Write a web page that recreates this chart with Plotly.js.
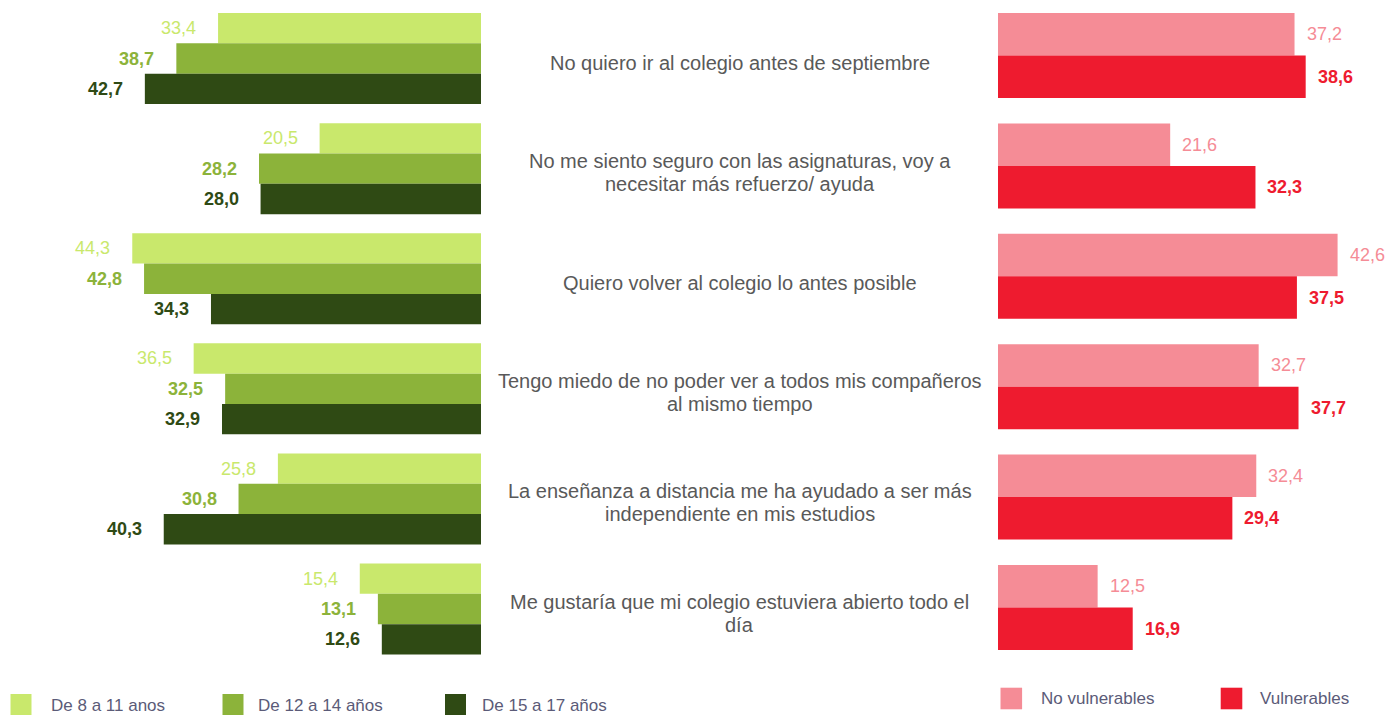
<!DOCTYPE html>
<html>
<head>
<meta charset="utf-8">
<script src="https://cdn.plot.ly/plotly-3.0.1.min.js"></script>
<style>
  html, body { margin: 0; padding: 0; background: #ffffff; }
  #chart { width: 1387px; height: 715px; }
</style>
</head>
<body>
<div id="chart"></div>
<script>
// ---------- DATA ----------
const categories = [
  "No quiero ir al colegio antes de septiembre",
  "No me siento seguro con las asignaturas, voy a<br>necesitar más refuerzo/ ayuda",
  "Quiero volver al colegio lo antes posible",
  "Tengo miedo de no poder ver a todos mis compañeros<br>al mismo tiempo",
  "La enseñanza a distancia me ha ayudado a ser más<br>independiente en mis estudios",
  "Me gustaría que mi colegio estuviera abierto todo el<br>día"
];
const age8to11  = [33.4, 20.5, 44.3, 36.5, 25.8, 15.4];
const age12to14 = [38.7, 28.2, 42.8, 32.5, 30.8, 13.1];
const age15to17 = [42.7, 28.0, 34.3, 32.9, 40.3, 12.6];
const noVulnerables = [37.2, 21.6, 42.6, 32.7, 32.4, 12.5];
const vulnerables   = [38.6, 32.3, 37.5, 37.7, 29.4, 16.9];

const ageNames  = ["De 8 a 11 anos", "De 12 a 14 años", "De 15 a 17 años"];
const vulnNames = ["No vulnerables", "Vulnerables"];

// ---------- STYLE ----------
const W = 1387, H = 715;
const FONT = "Liberation Sans, Arial, sans-serif";
const ageColors  = ["#C9E86C", "#8CB33A", "#2F4A14"];
const vulnColors = ["#F58C96", "#EE1B2F"];
const ageBold  = [false, true, true];
const vulnBold = [false, true];
const ageWidth = 0.2755, ageOffsets = [-0.413, -0.1375, 0.138];
const vulnWidth = 0.385, vulnOffsets = [-0.385, 0.0];

const idx = categories.map((_, i) => i);
const fmt = v => v.toFixed(1).replace(".", ",");
const px = x => x / W;
const py = y => 1 - y / H;

const traces = [];
const annotations = [];
const shapes = [];

[age8to11, age12to14, age15to17].forEach((vals, k) => {
  traces.push({
    type: "bar", orientation: "h", name: ageNames[k],
    x: vals, y: idx, xaxis: "x", yaxis: "y",
    width: ageWidth, offset: ageOffsets[k],
    marker: { color: ageColors[k], line: { width: 0 } },
    showlegend: false, hoverinfo: "x+name"
  });
  vals.forEach((v, i) => {
    const t = fmt(v);
    annotations.push({
      xref: "x", yref: "y", x: v, y: i + ageOffsets[k] + ageWidth / 2,
      text: ageBold[k] ? "<b>" + t + "</b>" : t,
      showarrow: false, xanchor: "right", yanchor: "middle", xshift: -20,
      font: { family: FONT, size: 18, color: ageColors[k] }
    });
  });
});

[noVulnerables, vulnerables].forEach((vals, k) => {
  traces.push({
    type: "bar", orientation: "h", name: vulnNames[k],
    x: vals, y: idx, xaxis: "x2", yaxis: "y2",
    width: vulnWidth, offset: vulnOffsets[k],
    marker: { color: vulnColors[k], line: { width: 0 } },
    showlegend: false, hoverinfo: "x+name"
  });
  vals.forEach((v, i) => {
    const t = fmt(v);
    annotations.push({
      xref: "x2", yref: "y2", x: v, y: i + vulnOffsets[k] + vulnWidth / 2,
      text: vulnBold[k] ? "<b>" + t + "</b>" : t,
      showarrow: false, xanchor: "left", yanchor: "middle", xshift: 10,
      font: { family: FONT, size: 18, color: vulnColors[k] }
    });
  });
});

// category labels in the middle
categories.forEach((c, i) => {
  const lines = c.split("<br>");
  lines.forEach((ln, j) => {
    annotations.push({
      xref: "paper", yref: "y", x: px(739.5), y: i,
      text: ln, showarrow: false, xanchor: "center", yanchor: "middle",
      yshift: -4 + ((lines.length - 1) / 2 - j) * 23,
      font: { family: FONT, size: 20, color: "#595959" }
    });
  });
});

// legends
const ageLegendSq = [10.5, 222.5, 445], ageLegendTx = [49, 256, 480];
ageNames.forEach((n, k) => {
  shapes.push({ type: "rect", xref: "paper", yref: "paper",
    x0: px(ageLegendSq[k]), x1: px(ageLegendSq[k] + 21), y0: py(715), y1: py(694),
    fillcolor: ageColors[k], line: { width: 0 } });
  annotations.push({ xref: "paper", yref: "paper", x: px(ageLegendTx[k]), y: py(705),
    text: n, showarrow: false, xanchor: "left", yanchor: "middle",
    font: { family: FONT, size: 17, color: "#5B5B78" } });
});
const vulnLegendSq = [1000.5, 1220.7], vulnLegendTx = [1039, 1258];
vulnNames.forEach((n, k) => {
  shapes.push({ type: "rect", xref: "paper", yref: "paper",
    x0: px(vulnLegendSq[k]), x1: px(vulnLegendSq[k] + 21.6), y0: py(709.3), y1: py(687.7),
    fillcolor: vulnColors[k], line: { width: 0 } });
  annotations.push({ xref: "paper", yref: "paper", x: px(vulnLegendTx[k]), y: py(698),
    text: n, showarrow: false, xanchor: "left", yanchor: "middle",
    font: { family: FONT, size: 17, color: "#5B5B78" } });
});

const hidden = { showgrid: false, zeroline: false, showticklabels: false, showline: false, ticks: "" , fixedrange: true};

const layout = {
  width: W, height: H,
  margin: { l: 0, r: 0, t: 0, b: 0, pad: 0 },
  paper_bgcolor: "#ffffff", plot_bgcolor: "#ffffff",
  barmode: "overlay",
  showlegend: false,
  font: { family: FONT },
  xaxis: Object.assign({ domain: [0, px(481)], range: [61.1, 0], anchor: "y" }, hidden),
  yaxis: Object.assign({ domain: [py(664.05), py(3.45)], range: [5.5, -0.5], anchor: "x" }, hidden),
  xaxis2: Object.assign({ domain: [px(998), 1], range: [0, 48.8], anchor: "y2" }, hidden),
  yaxis2: Object.assign({ domain: [py(662.7), py(0.3)], range: [5.5, -0.5], anchor: "x2" }, hidden),
  annotations: annotations,
  shapes: shapes
};

Plotly.newPlot("chart", traces, layout, { displayModeBar: false, staticPlot: true });
</script>
</body>
</html>
